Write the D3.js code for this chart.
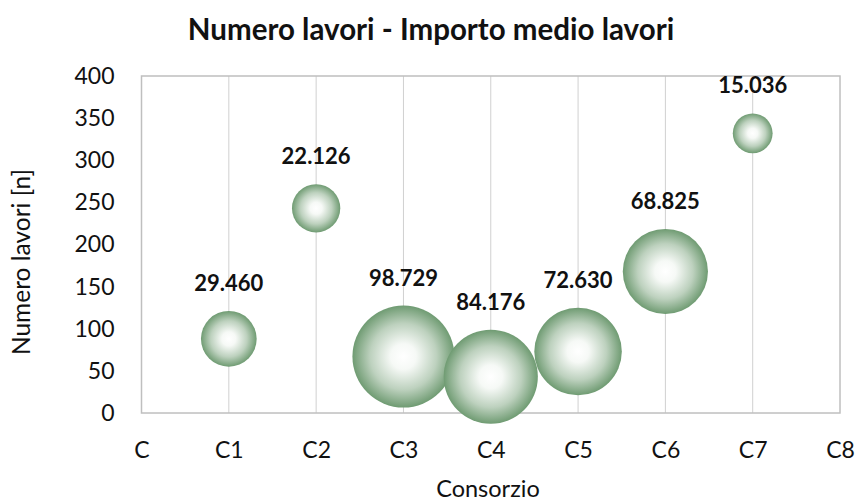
<!DOCTYPE html>
<html>
<head>
<meta charset="utf-8">
<script src="https://cdn.jsdelivr.net/npm/d3@7"></script>
<style>
  body { margin: 0; background: #fff; }
  text { font-family: Lato, "Open Sans", sans-serif; fill: #111; }
</style>
</head>
<body>
<div id="chart"></div>
<script>
const categories = ["C", "C1", "C2", "C3", "C4", "C5", "C6", "C7", "C8"];
const consorzi = [1, 2, 3, 4, 5, 6, 7];
const numeroLavori = [88, 243, 67, 43, 73, 168, 332];
const importoMedio = [29460, 22126, 98729, 84176, 72630, 68825, 15036];
const yTicks = [0, 50, 100, 150, 200, 250, 300, 350, 400];

const width = 857;
const height = 504;
const margin = { top: 76, right: 17, bottom: 91, left: 141.5 };

const svg = d3.select('#chart')
  .append('svg')
    .attr('width', width)
    .attr('height', height);

const x = d3.scaleLinear()
  .domain([0, 8])
  .range([margin.left, width - margin.right]);

const y = d3.scaleLinear()
  .domain([0, 400])
  .range([height - margin.bottom, margin.top]);

const r = d3.scaleSqrt()
  .domain([0, d3.max(importoMedio)])
  .range([0, 51]);

// gradient for the bubbles
const grad = svg.append('defs')
  .append('radialGradient')
    .attr('id', 'bubble')
    .attr('cx', '50%').attr('cy', '50%').attr('r', '50%');
grad.append('stop').attr('offset', '0%').attr('stop-color', '#ffffff');
grad.append('stop').attr('offset', '25%').attr('stop-color', '#f6f9f6');
grad.append('stop').attr('offset', '65%').attr('stop-color', '#bdd1be');
grad.append('stop').attr('offset', '100%').attr('stop-color', '#6f9b72');

// vertical gridlines
svg.append('g')
  .selectAll('line')
  .data(d3.range(1, 8))
  .join('line')
    .attr('x1', d => x(d))
    .attr('x2', d => x(d))
    .attr('y1', y(400))
    .attr('y2', y(0))
    .attr('stroke', '#d0d0d0')
    .attr('stroke-width', 1);

// plot area border
svg.append('rect')
  .attr('x', x(0))
  .attr('y', y(400))
  .attr('width', x(8) - x(0))
  .attr('height', y(0) - y(400))
  .attr('fill', 'none')
  .attr('stroke', '#bfbfbf')
  .attr('stroke-width', 1.5);

// y axis
const yAxis = svg.append('g')
  .attr('transform', `translate(${x(0)},0)`)
  .call(d3.axisLeft(y).tickValues(yTicks).tickSize(0).tickPadding(27));
yAxis.select('.domain').remove();
yAxis.selectAll('text')
  .attr('font-size', 23)
  .attr('font-family', 'Lato')
  .attr('fill', '#111');

// x axis
const xAxis = svg.append('g')
  .attr('transform', `translate(0,${y(0)})`)
  .call(d3.axisBottom(x).tickValues(d3.range(0, 9)).tickSize(0).tickPadding(29)
    .tickFormat(d => categories[d]));
xAxis.select('.domain').remove();
xAxis.selectAll('text')
  .attr('font-size', 23)
  .attr('font-family', 'Lato')
  .attr('fill', '#111');

// bubbles
const bubbles = svg.append('g')
  .selectAll('.bubble')
  .data(consorzi)
  .join('g')
    .attr('class', 'bubble');

bubbles.append('circle')
  .attr('cx', d => x(d))
  .attr('cy', (d, i) => y(numeroLavori[i]))
  .attr('r', (d, i) => r(importoMedio[i]))
  .attr('fill', 'url(#bubble)');

// data labels
bubbles.append('text')
  .attr('x', d => x(d))
  .attr('y', (d, i) => y(numeroLavori[i]) - r(importoMedio[i]) - 20)
  .attr('text-anchor', 'middle')
  .attr('font-size', 22)
  .attr('font-weight', 'bold')
  .attr('fill', '#000')
  .text((d, i) => d3.format(',')(importoMedio[i]).replace(',', '.'));

// title
svg.append('text')
  .attr('x', 431)
  .attr('y', 40)
  .attr('text-anchor', 'middle')
  .attr('font-size', 29.5)
  .attr('font-weight', 'bold')
  .attr('fill', '#000')
  .text('Numero lavori - Importo medio lavori');

// axis titles
svg.append('text')
  .attr('x', 488)
  .attr('y', 497)
  .attr('text-anchor', 'middle')
  .attr('font-size', 23.5)
  .text('Consorzio');

svg.append('text')
  .attr('transform', 'translate(30,262) rotate(-90)')
  .attr('text-anchor', 'middle')
  .attr('font-size', 24.5)
  .text('Numero lavori [n]');
</script>
</body>
</html>
